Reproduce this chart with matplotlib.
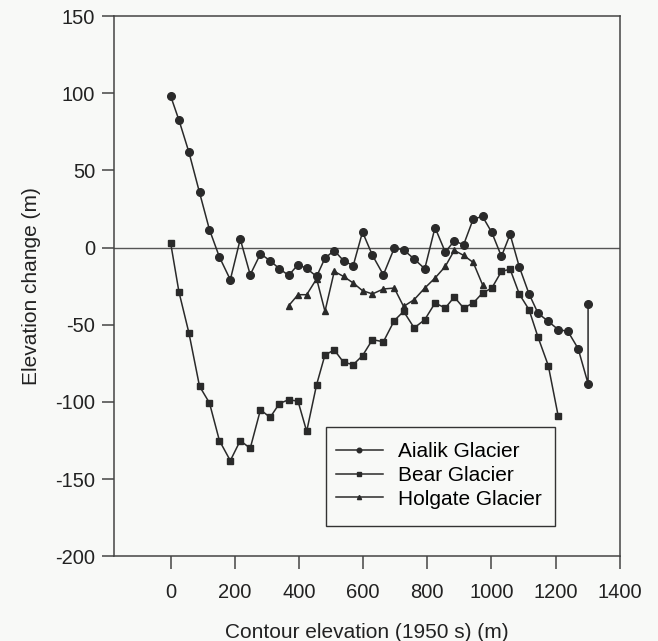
import matplotlib as mpl
mpl.use('Agg')
import matplotlib.pyplot as plt
from matplotlib.patches import Rectangle

plt.rcParams['font.family'] = ['Liberation Sans', 'DejaVu Sans']
plt.rcParams['axes.unicode_minus'] = False

# Contour elevations (1950s)
elev = [0, 26, 57, 90, 121, 152, 186, 217, 248, 280, 310, 339, 368, 397,
        424, 455, 481, 510, 539, 569, 598, 629, 663, 697, 726, 759, 792,
        824, 856, 884, 913, 943, 972, 1001, 1031, 1058, 1087, 1117, 1145,
        1177, 1208, 1238, 1270, 1301]

aialik_x = elev + [1301]
aialik_y = [98.2, 82.5, 61.8, 35.7, 11.6, -6.1, -20.8, 5.5, -17.6, -4,
            -8.5, -13.7, -18, -11, -13.5, -18.7, -6.8, -1.9, -8.5, -11.7,
            10.1, -5, -17.6, -0.3, -1.4, -7.4, -13.7, 13, -2.9, 4.4,
            1.8, 18.5, 20.2, 9.8, -5.7, 8.6, -12.7, -30, -42.5, -47.8,
            -53.1, -54.2, -65.4, -88.1, -36.3]

bear_x = elev[:41]
bear_y = [3.0, -28.8, -55.3, -89.8, -100.6, -125, -138, -125, -130, -105,
          -110, -101, -98.5, -99.5, -119, -88.7, -69.5, -66.3, -74.3, -75.8,
          -70, -59.6, -61, -47.3, -41.3, -52, -46.7, -35.9, -39.1, -32,
          -39.1, -35.9, -29.4, -26.2, -15.4, -14, -30.2, -40.2, -58, -76.4,
          -109.2]

holgate_x = elev[12:33]
holgate_y = [-37.6, -30.5, -30.5, -20.2, -41.3, -15.4, -18.7, -22.9, -27.9,
             -30, -26.8, -26.2, -38.1, -33.7, -26.2, -19.7, -12.2, -1.8,
             -5, -9.6, -24]

ink = '#2a2a2a'
bg = '#f8f9f7'
fig = plt.figure(figsize=(6.58, 6.41), dpi=100, facecolor=bg)
ax = fig.add_axes([0.174, 0.132, 0.768, 0.843])
ax.set_facecolor(bg)

ax.axhline(0, color='#555555', lw=1.0, zorder=1)

ax.plot(aialik_x, aialik_y, '-o', color=ink, lw=1.1, ms=5.5, label='Aialik Glacier')
ax.plot(bear_x, bear_y, '-s', color=ink, lw=1.1, ms=5, label='Bear Glacier')
ax.plot(holgate_x, holgate_y, '-^', color=ink, lw=1.1, ms=5, label='Holgate Glacier')

ax.set_xlim(-175, 1400)
ax.set_ylim(-200, 150)
ax.set_xticks([0, 200, 400, 600, 800, 1000, 1200, 1400])
ax.set_yticks([-200, -150, -100, -50, 0, 50, 100, 150])

for s in ax.spines.values():
    s.set_color('#444444')
    s.set_linewidth(1.1)
ax.tick_params(direction='out', length=9, width=1.1, color='#444444',
               labelsize=14.5, labelcolor='#222222')
ax.tick_params(axis='x', pad=10)
ax.tick_params(axis='y', pad=5)

ax.set_xlabel('Contour elevation (1950 s) (m)', fontsize=15, color='#222222', labelpad=15)
ax.set_ylabel('Elevation change (m)', fontsize=15, color='#222222', labelpad=10)

# legend box drawn separately so its padding can be uneven like the original
box = Rectangle((0.418, 0.0564), 0.453, 0.183, transform=ax.transAxes,
                facecolor=bg, edgecolor='#333333', lw=1.0, zorder=4)
ax.add_patch(box)
leg = ax.legend(loc='center left', bbox_to_anchor=(0.438, 0.150), borderaxespad=0,
                frameon=False, fontsize=15, markerscale=0.6, handlelength=2.26,
                labelspacing=0.23, borderpad=0, handletextpad=0.72)
leg.set_zorder(5)

fig.savefig('out.png', dpi=100, facecolor=fig.get_facecolor())
